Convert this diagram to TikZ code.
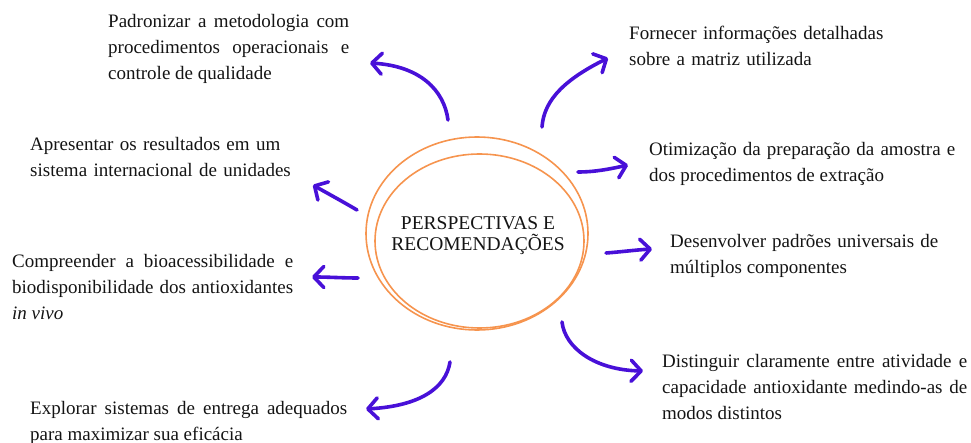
\documentclass[tikz,border=0pt]{standalone}
\usepackage{fontspec}
\setmainfont{Liberation Serif}
\usetikzlibrary{arrows.meta}
\definecolor{arrowpurple}{RGB}{72,16,216}
\definecolor{scribble}{RGB}{246,148,78}
\definecolor{ink}{RGB}{20,20,20}
% zero-width strut fixing the height of each block's first line
\newcommand{\firstline}{\rule{0pt}{15pt}}

\begin{document}
\begin{tikzpicture}[x=1pt,y=-1pt,
  label text/.style={anchor=north west, inner sep=0pt, text=ink,
    font={\fontsize{19}{26.3}\selectfont\parindent=0pt\hyphenpenalty=10000\exhyphenpenalty=10000}},
  just/.style={label text, align=justify, text width=#1},
  ragged/.style={label text, align=left, text width=#1},
  pointer/.style={draw=arrowpurple, line width=3.6pt, line cap=round,
    -{Straight Barb[length=10pt,width=21pt,line cap=round,line join=round]}},
  scribble line/.style={draw=scribble, line width=1.6pt}]

\useasboundingbox (0,0) rectangle (971,443);

% central title with its hand-drawn double loop
\node[inner sep=0pt, text=ink, align=center,
  font={\fontsize{19.5}{20.5}\selectfont}] (core) at (478,235.5)
  {PERSPECTIVAS E\\RECOMENDAÇÕES};
\draw[scribble line] (477,233.5) ellipse [x radius=111, y radius=96.5];
\draw[scribble line] (479.5,241) ellipse [x radius=104.5, y radius=87];

% recommendations around the centre
\node[just=241pt] (padronizar) at (108,12)
  {\firstline Padronizar a metodologia com\linebreak procedimentos operacionais e\linebreak controle de qualidade};
\node[ragged=320pt] (apresentar) at (30,135)
  {\firstline Apresentar os resultados em um\\sistema internacional de unidades};
\node[just=281pt] (compreender) at (12,252)
  {\firstline Compreender a bioacessibilidade e\linebreak biodisponibilidade dos antioxidantes\linebreak \textit{in vivo}};
\node[just=317pt] (explorar) at (30,399)
  {\firstline Explorar sistemas de entrega adequados\linebreak para maximizar sua eficácia};
\node[ragged=320pt] (fornecer) at (629,24)
  {\firstline Fornecer informações detalhadas\\sobre a matriz utilizada};
\node[just=306pt] (otimizacao) at (649,140)
  {\firstline Otimização da preparação da amostra e\linebreak dos procedimentos de extração};
\node[just=268pt] (desenvolver) at (670,232)
  {\firstline Desenvolver padrões universais de\linebreak múltiplos componentes};
\node[just=305pt] (distinguir) at (662,352)
  {\firstline Distinguir claramente entre atividade e\linebreak capacidade antioxidante medindo-as de\linebreak modos distintos};

% arrow ends
\coordinate (s1) at (448,120); \coordinate (t1) at (370,63);
\coordinate (s2) at (542,127); \coordinate (t2) at (608,58);
\coordinate (s3) at (578,172); \coordinate (t3) at (628,165);
\coordinate (s4) at (606,253); \coordinate (t4) at (652,249);
\coordinate (s5) at (562,322); \coordinate (t5) at (643,371);
\coordinate (s6) at (450,362); \coordinate (t6) at (366,409);
\coordinate (s7) at (358,278); \coordinate (t7) at (312,277);
\coordinate (s8) at (357,210); \coordinate (t8) at (313,185);

\draw[pointer] (s1) .. controls (444,90) and (420,66) .. (t1);
\draw[pointer] (s2) .. controls (544,98) and (568,78) .. (t2);
\draw[pointer] (s3) .. controls (595,172) and (610,169) .. (t3);
\draw[pointer] (s4) .. controls (620,252) and (635,250) .. (t4);
\draw[pointer] (s5) .. controls (565,348) and (595,370) .. (t5);
\draw[pointer] (s6) .. controls (446,388) and (420,406) .. (t6);
\draw[pointer] (s7) .. controls (343,278) and (328,277) .. (t7);
\draw[pointer] (s8) .. controls (340,200) and (325,192) .. (t8);
\end{tikzpicture}
\end{document}
